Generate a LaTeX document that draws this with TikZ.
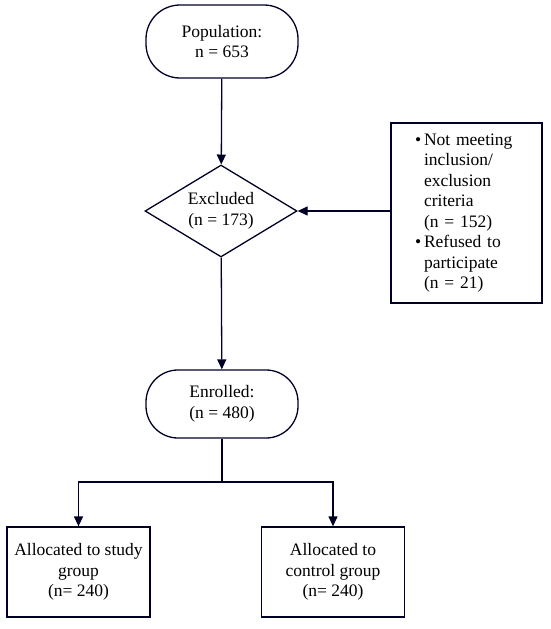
\documentclass[tikz,border=0pt]{standalone}
\usepackage{fontspec}
\setmainfont{Liberation Serif}
\usetikzlibrary{shapes.geometric,arrows.meta}
\begin{document}
\begin{tikzpicture}[x=1pt,y=-1pt,
  line width=1.3pt, draw=black!85!blue,
  every node/.style={font=\fontsize{17.5}{20.5}\selectfont, align=center},
  term/.style={draw, rectangle, rounded corners=34pt, minimum width=152pt, minimum height=73pt, inner sep=0pt},
  dia/.style={draw, diamond, aspect=1.65, minimum width=152pt, minimum height=92pt, inner sep=0pt},
  box/.style={draw, rectangle, minimum width=143pt, minimum height=90pt, inner sep=0pt},
  arr/.style={-{Triangle[length=10pt,width=9pt]}}]
\useasboundingbox (0,0) rectangle (550,629);
\node[term] (pop) at (222,41.5) {Population:\\n = 653};
\node[dia] (exc) at (221,211) {Excluded\\(n = 173)};
\node[draw, rectangle, minimum width=151pt, minimum height=180pt, text width=103pt, inner xsep=24pt, inner ysep=0pt, align=left] (crit) at (466.5,213)
 {\textbullet\,Not meeting\\
  \phantom{\textbullet\,}inclusion/\\
  \phantom{\textbullet\,}exclusion\\
  \phantom{\textbullet\,}criteria\\
  \phantom{\textbullet\,}(n = 152)\\
  \textbullet\,Refused to\\
  \phantom{\textbullet\,}participate\\
  \phantom{\textbullet\,}(n = 21)};
\node[term, minimum height=68pt, rounded corners=32pt] (enr) at (222,404) {Enrolled:\\(n = 480)};
\node[box] (study) at (78.5,572) {Allocated to study\\group\\(n= 240)};
\node[box] (ctrl) at (333,572) {Allocated to\\control group\\(n= 240)};
\coordinate (split) at (222,482);
\draw[arr] (pop) -- (exc);
\draw[arr] (crit.west |- exc.east) -- (exc.east);
\draw[arr] (exc) -- (enr);
\draw (enr) -- (split);
\draw[arr] (split) -| (study);
\draw[arr] (split) -| (ctrl);
\end{tikzpicture}
\end{document}
